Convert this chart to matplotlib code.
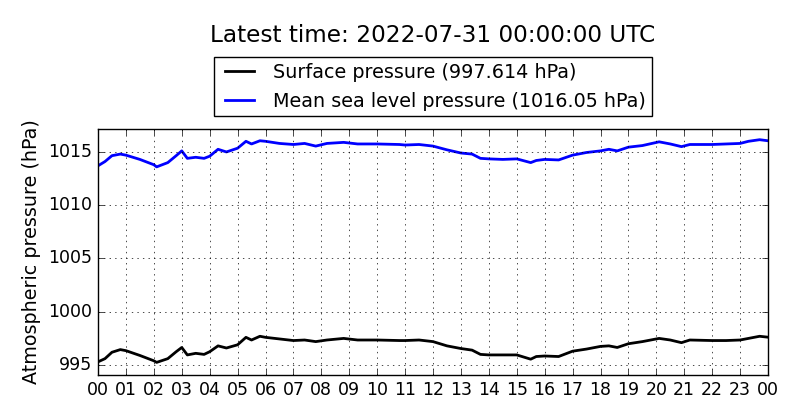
import matplotlib
matplotlib.use("Agg")
import matplotlib.pyplot as plt

# hours since 2022-07-30 00:00 UTC
hours = [0, 0.25, 0.5, 0.8, 1.0, 1.5, 2.0, 2.1, 2.5, 2.8, 3.0, 3.2, 3.5, 3.8,
         4.0, 4.3, 4.6, 5.0, 5.3, 5.5, 5.8, 6.0, 6.5, 7.0, 7.4, 7.8, 8.2, 8.8,
         9.3, 10.0, 10.8, 11.0, 11.5, 12.0, 12.5, 13.0, 13.4, 13.7, 14.0, 14.5,
         15.0, 15.5, 15.7, 16.0, 16.5, 17.0, 17.5, 18.0, 18.3, 18.6, 19.0, 19.5,
         20.1, 20.5, 20.9, 21.2, 22.0, 22.5, 23.0, 23.3, 23.7, 24.0]

surface = [995.3, 995.6, 996.2, 996.45, 996.35, 995.9, 995.4, 995.25, 995.6, 996.25,
           996.65, 995.95, 996.1, 996.0, 996.25, 996.8, 996.6, 996.9, 997.6, 997.35,
           997.7, 997.6, 997.45, 997.3, 997.35, 997.2, 997.35, 997.5, 997.35, 997.35,
           997.3, 997.3, 997.35, 997.2, 996.8, 996.55, 996.4, 996.0, 995.95, 995.95,
           995.95, 995.55, 995.8, 995.85, 995.8, 996.3, 996.5, 996.75, 996.8, 996.65,
           997.0, 997.2, 997.5, 997.35, 997.1, 997.35, 997.3, 997.3, 997.35, 997.5,
           997.7, 997.614]

msl = [1013.7, 1014.1, 1014.65, 1014.8, 1014.7, 1014.3, 1013.8, 1013.6, 1014.0, 1014.65,
       1015.1, 1014.4, 1014.5, 1014.4, 1014.6, 1015.25, 1015.0, 1015.35, 1016.0, 1015.75,
       1016.05, 1016.0, 1015.8, 1015.7, 1015.8, 1015.55, 1015.8, 1015.9, 1015.75, 1015.75,
       1015.7, 1015.65, 1015.7, 1015.55, 1015.2, 1014.9, 1014.8, 1014.4, 1014.35, 1014.3,
       1014.35, 1014.0, 1014.2, 1014.3, 1014.25, 1014.7, 1014.95, 1015.1, 1015.25, 1015.1,
       1015.45, 1015.6, 1015.95, 1015.75, 1015.5, 1015.7, 1015.7, 1015.75, 1015.8, 1016.0,
       1016.15, 1016.05]

hour_labels = ["%02d" % (h % 24) for h in range(25)]
yticks = [995, 1000, 1005, 1010, 1015]

plt.style.use("classic")
fig = plt.figure(figsize=(8, 4.2), dpi=100, facecolor="white")
ax = fig.add_axes([0.1225, 0.107, 0.8375, 0.586])

ax.plot(hours, surface, color="k", linewidth=2,
        label="Surface pressure (%.3f hPa)" % surface[-1])
ax.plot(hours, msl, color="b", linewidth=2,
        label="Mean sea level pressure (%.2f hPa)" % msl[-1])

ax.set_xlim(0, 24)
ax.set_ylim(994.06, 1017.16)
ax.set_xticks(range(25))
ax.set_xticklabels(hour_labels)
ax.set_yticks(yticks)
ax.ticklabel_format(axis="y", useOffset=False)
ax.tick_params(labelsize=12.5)
ax.grid(True)
ax.set_ylabel("Atmospheric pressure (hPa)", fontsize=13.8)

ax.legend(loc="lower center", bbox_to_anchor=(0.5, 1.0), fontsize=13.8,
          borderaxespad=0.65, handlelength=2.1, borderpad=0.3, labelspacing=0.5,
          handletextpad=0.7)
fig.text(0.541, 0.915, "Latest time: 2022-07-31 00:00:00 UTC", fontsize=16.7,
         ha="center", va="center")

fig.savefig("out.png", dpi=100, facecolor="white")
